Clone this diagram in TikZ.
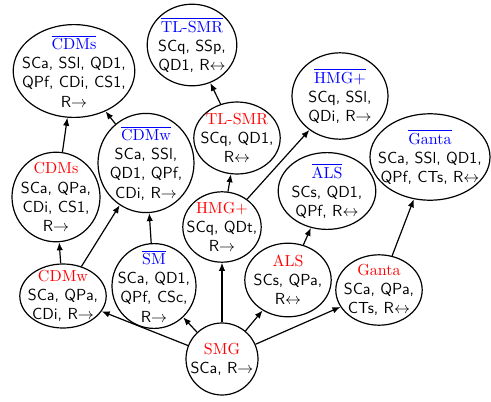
\documentclass[tikz,border=0pt]{standalone}
\usetikzlibrary{shapes.geometric,arrows.meta}
\newcommand{\hd}[1]{\textcolor{red}{\textrm{#1}}}
\newcommand{\hb}[1]{\textcolor{blue}{$\overline{\textrm{#1}}$}}
\newcommand{\ra}{$\rightarrow$}
\newcommand{\lra}{$\leftrightarrow$}
\begin{document}
\begin{tikzpicture}[x=0.625pt,y=-0.625pt,
  ell/.style={ellipse, draw, line width=0.75pt, inner sep=0pt},
  txt/.style={align=center, font=\sffamily, inner sep=0pt},
  arr/.style={-{Latex[length=5pt,width=4pt]}, line width=0.75pt}]
\useasboundingbox (0,0) rectangle (491,401);
% ellipses
\node[ell, minimum width=76pt, minimum height=58pt] (cdmsb) at (74,71) {};
\node[ell, minimum width=56pt, minimum height=51pt] (tlsmrb) at (192,45) {};
\node[ell, minimum width=60pt, minimum height=62pt] (cdmwb) at (146,163) {};
\node[ell, minimum width=55pt, minimum height=56pt] (cdms) at (56,197) {};
\node[ell, minimum width=54pt, minimum height=40pt] (cdmw) at (63,296) {};
\node[ell, minimum width=52.5pt, minimum height=53pt] (smb) at (154,286) {};
\node[ell, minimum width=45pt, minimum height=45pt] (smg) at (222,359) {};
\node[ell, minimum width=49pt, minimum height=44pt] (hmg) at (222,227) {};
\node[ell, minimum width=54pt, minimum height=45pt] (tlsmr) at (237,138) {};
\node[ell, minimum width=60pt, minimum height=54pt] (hmgb) at (340,96) {};
\node[ell, minimum width=75pt, minimum height=54pt] (gantab) at (430,157) {};
\node[ell, minimum width=61pt, minimum height=48pt] (alsb) at (327,191) {};
\node[ell, minimum width=54pt, minimum height=46pt] (als) at (288,280) {};
\node[ell, minimum width=54pt, minimum height=44pt] (ganta) at (379,290) {};
% texts
\node[txt] (tcdmsb) at (cdmsb) {\hb{CDMs}\\SCa, SSl, QD1,\\QPf, CDi, CS1,\\R\ra};
\node[txt] (ttlsmrb) at (tlsmrb) {\hb{TL-SMR}\\SCq, SSp,\\QD1, R\lra};
\node[txt] (tcdmwb) at (cdmwb) {\hb{CDMw}\\SCa, SSl,\\QD1, QPf,\\CDi, R\ra};
\node[txt] (tcdms) at (cdms) {\hd{CDMs}\\SCa, QPa,\\CDi, CS1,\\R\ra};
\node[txt] (tcdmw) at (cdmw) {\hd{CDMw}\\SCa, QPa,\\CDi, R\ra};
\node[txt] (tsmb) at (smb) {\hb{SM}\\SCa, QD1,\\QPf, CSc,\\R\ra};
\node[txt] (tsmg) at (smg) {\hd{SMG}\\SCa, R\ra};
\node[txt] (thmg) at (hmg) {\hd{HMG+}\\SCq, QDt,\\R\ra};
\node[txt] (ttlsmr) at (tlsmr) {\hd{TL-SMR}\\SCq, QD1,\\R\lra};
\node[txt] (thmgb) at (hmgb) {\hb{HMG+}\\SCq, SSl,\\QDi, R\ra};
\node[txt] (tgantab) at (gantab) {\hb{Ganta}\\SCa, SSl, QD1,\\QPf, CTs, R\lra};
\node[txt] (talsb) at (alsb) {\hb{ALS}\\SCs, QD1,\\QPf, R\lra};
\node[txt] (tals) at (als) {\hd{ALS}\\SCs, QPa,\\R\lra};
\node[txt] (tganta) at (ganta) {\hd{Ganta}\\SCa, QPa,\\CTs, R\lra};
% connectors
\draw[arr] (cdms) -- (cdmsb);
\draw[arr] (cdmw) -- (cdms);
\draw[arr] (cdmw) -- (cdmwb);
\draw[arr] (cdmwb) -- (cdmsb);
\draw[arr] (smb) -- (cdmwb);
\draw[arr] (smg) -- (cdmw);
\draw[arr] (smg) -- (smb);
\draw[arr] (smg) -- (hmg);
\draw[arr] (smg) -- (als);
\draw[arr] (smg) -- (ganta);
\draw[arr] (hmg) -- (tlsmr);
\draw[arr] (hmg) -- (hmgb);
\draw[arr] (tlsmr) -- (tlsmrb);
\draw[arr] (als) -- (alsb);
\draw[arr] (ganta) -- (gantab);
\end{tikzpicture}
\end{document}
